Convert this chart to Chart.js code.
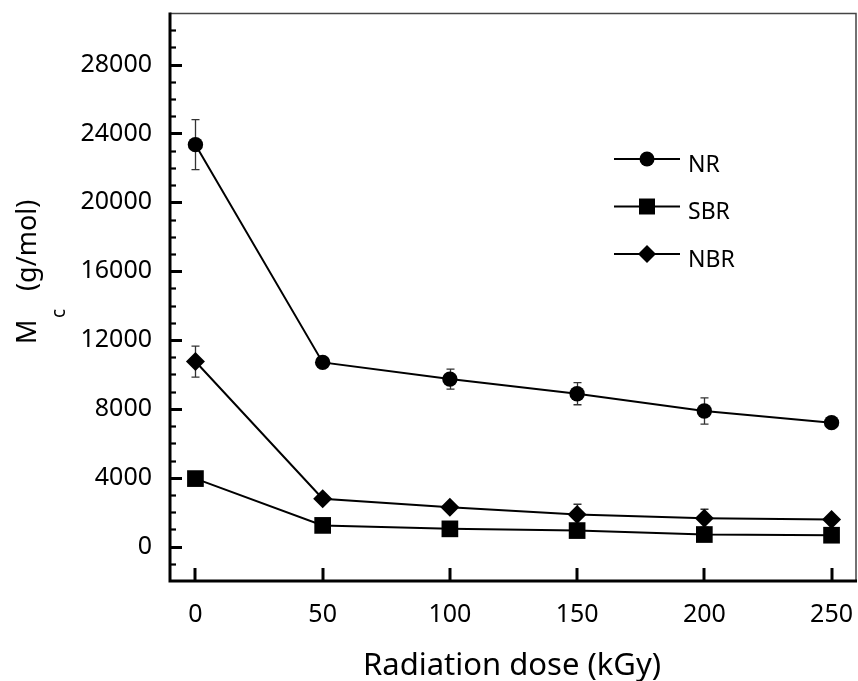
<!DOCTYPE html>
<html>
<head>
<meta charset="utf-8">
<title>Mc vs radiation dose</title>
<script src="https://cdn.jsdelivr.net/npm/chart.js@4.4.1/dist/chart.umd.min.js"></script>
<style>
  html, body { margin: 0; padding: 0; background: #fff; }
  canvas { display: block; }
</style>
</head>
<body>
<canvas id="chart" width="858" height="681"></canvas>
<script>
// dose (kGy) and molecular weight between crosslinks (g/mol)
var doses = [0, 50, 100, 150, 200, 250];
var nrMc = [23350, 10700, 9730, 8880, 7880, 7200];
var nrErr = [1450, 0, 580, 640, 760, 0];
var sbrMc = [3950, 1230, 1030, 930, 700, 660];
var sbrErr = [0, 0, 0, 0, 0, 0];
var nbrMc = [10750, 2780, 2290, 1860, 1650, 1570];
var nbrErr = [900, 0, 0, 600, 520, 0];

var xTicks = [0, 50, 100, 150, 200, 250];
var yTicks = [0, 4000, 8000, 12000, 16000, 20000, 24000, 28000];
var yMinorStep = 1000;

var FONT = "'Noto Sans', 'DejaVu Sans', sans-serif";

function toPoints(ys) {
  return doses.map(function (d, i) { return { x: d, y: ys[i] }; });
}

function series(label, ys, errs, style, radius) {
  return {
    label: label,
    data: toPoints(ys),
    errors: errs,
    borderColor: "#000",
    borderWidth: 2,
    backgroundColor: "#000",
    pointBackgroundColor: "#000",
    pointBorderColor: "#000",
    pointBorderWidth: 0,
    pointStyle: style,
    pointRadius: radius,
    tension: 0
  };
}

// error bars, drawn under the markers
var errorBars = {
  id: "errorBars",
  beforeDatasetsDraw: function (chart) {
    var ctx = chart.ctx, xs = chart.scales.x, ys = chart.scales.y;
    ctx.save();
    ctx.strokeStyle = "#333";
    ctx.lineWidth = 1.3;
    chart.data.datasets.forEach(function (ds) {
      ds.data.forEach(function (p, i) {
        var e = ds.errors[i];
        if (!e) return;
        var x = Math.round(xs.getPixelForValue(p.x)) + 0.5;
        var y1 = ys.getPixelForValue(p.y + e);
        var y2 = ys.getPixelForValue(p.y - e);
        ctx.beginPath();
        ctx.moveTo(x, y1); ctx.lineTo(x, y2);
        ctx.moveTo(x - 4, y1); ctx.lineTo(x + 4, y1);
        ctx.moveTo(x - 4, y2); ctx.lineTo(x + 4, y2);
        ctx.stroke();
      });
    });
    ctx.restore();
  }
};

// box frame, inward ticks, axis titles and the legend
var frame = {
  id: "frame",
  afterDraw: function (chart) {
    var ctx = chart.ctx, a = chart.chartArea;
    var xs = chart.scales.x, ys = chart.scales.y;
    ctx.save();

    // thin top and right edges
    ctx.lineWidth = 1.5;
    ctx.strokeStyle = "#444";
    ctx.beginPath();
    ctx.moveTo(a.left, a.top + 0.5); ctx.lineTo(a.right - 1, a.top + 0.5);
    ctx.lineTo(a.right - 1, a.bottom);
    ctx.stroke();

    // heavy left and bottom axes
    ctx.strokeStyle = "#000";
    ctx.lineWidth = 3;
    ctx.beginPath();
    ctx.moveTo(a.left, a.top - 0.5); ctx.lineTo(a.left, a.bottom);
    ctx.lineTo(a.right, a.bottom);
    ctx.stroke();

    // y ticks
    for (var v = ys.min + yMinorStep; v < ys.max; v += yMinorStep) {
      var y = Math.round(ys.getPixelForValue(v)) + 0.5;
      var major = yTicks.indexOf(v) >= 0;
      ctx.lineWidth = major ? 3 : 2.2;
      ctx.beginPath();
      ctx.moveTo(a.left, y);
      ctx.lineTo(a.left + (major ? 12 : 6), y);
      ctx.stroke();
    }
    // x ticks
    ctx.lineWidth = 3;
    xTicks.forEach(function (t) {
      var x = Math.round(xs.getPixelForValue(t));
      ctx.beginPath();
      ctx.moveTo(x, a.bottom);
      ctx.lineTo(x, a.bottom - 13);
      ctx.stroke();
    });

    // x title
    ctx.fillStyle = "#000";
    ctx.font = "31px " + FONT;
    ctx.textAlign = "center";
    ctx.textBaseline = "alphabetic";
    ctx.fillText("Radiation dose (kGy)", 512, 675);

    // y title: M with subscript c, then units
    ctx.save();
    ctx.translate(36, 344);
    ctx.rotate(-Math.PI / 2);
    ctx.textAlign = "left";
    ctx.font = "27px " + FONT;
    ctx.fillText("M", 0, 0);
    ctx.font = "19px " + FONT;
    ctx.fillText("c", 26, 29);
    ctx.font = "27px " + FONT;
    ctx.fillText("(g/mol)", 53, 0);
    ctx.restore();

    // legend
    var lx0 = 614, lx1 = 680, mx = 647, rowY = [159, 206.5, 254];
    chart.data.datasets.forEach(function (ds, i) {
      var y = rowY[i];
      ctx.lineWidth = 2;
      ctx.strokeStyle = "#000";
      ctx.beginPath();
      ctx.moveTo(lx0, y); ctx.lineTo(lx1, y);
      ctx.stroke();
      ctx.fillStyle = "#000";
      Chart.helpers.drawPoint(ctx, {
        pointStyle: ds.pointStyle,
        radius: ds.pointStyle === "rect" ? 11.3 : ds.pointStyle === "rectRot" ? 9 : 7.5,
        borderWidth: 0
      }, mx, y);
      ctx.font = "23px " + FONT;
      ctx.textAlign = "left";
      ctx.fillText(ds.label, 688, y + 12.5);
    });

    ctx.restore();
  }
};

var tickFont = { family: FONT, size: 25 };
function plain(v) { return String(v); }

new Chart(document.getElementById("chart"), {
  type: "line",
  data: {
    datasets: [
      series("NR", nrMc, nrErr, "circle", 7.7),
      series("SBR", sbrMc, sbrErr, "rect", 11.8),
      series("NBR", nbrMc, nbrErr, "rectRot", 9.5)
    ]
  },
  options: {
    responsive: false,
    devicePixelRatio: 1,
    animation: false,
    layout: { autoPadding: false, padding: { top: 13, right: 1, left: 0, bottom: 0 } },
    plugins: {
      legend: { display: false },
      tooltip: { enabled: false }
    },
    scales: {
      x: {
        type: "linear",
        min: -10,
        max: 260,
        afterBuildTicks: function (s) { s.ticks = xTicks.map(function (v) { return { value: v }; }); },
        afterFit: function (s) { s.height = 100; s.paddingLeft = 0; s.paddingRight = 0; },
        grid: { display: false, drawTicks: false },
        border: { display: false },
        ticks: { font: tickFont, color: "#000", padding: 19, maxRotation: 0, callback: plain }
      },
      y: {
        type: "linear",
        min: -2000,
        max: 31000,
        afterBuildTicks: function (s) { s.ticks = yTicks.map(function (v) { return { value: v }; }); },
        afterFit: function (s) { s.width = 170; s.paddingTop = 0; s.paddingBottom = 0; },
        grid: { display: false, drawTicks: false },
        border: { display: false },
        ticks: { font: tickFont, color: "#000", padding: 18, callback: plain }
      }
    }
  },
  plugins: [errorBars, frame]
});
</script>
</body>
</html>
